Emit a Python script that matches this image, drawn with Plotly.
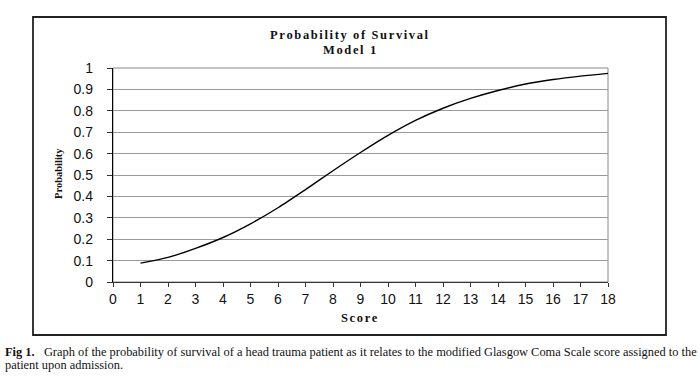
import plotly.graph_objects as go

scores = [1, 2, 3, 4, 5, 6, 7, 8, 9, 10, 11, 12, 13, 14, 15, 16, 17, 18]
probability = [0.088, 0.115, 0.157, 0.208, 0.272, 0.347, 0.432, 0.52, 0.605,
               0.685, 0.755, 0.812, 0.858, 0.895, 0.925, 0.946, 0.962, 0.975]
x_ticks = list(range(0, 19))
y_ticks = [0, 0.1, 0.2, 0.3, 0.4, 0.5, 0.6, 0.7, 0.8, 0.9, 1]
y_tick_labels = ["0", "0.1", "0.2", "0.3", "0.4", "0.5", "0.6", "0.7", "0.8", "0.9", "1"]

GAP = '<span style="font-size:6.5px"> </span>'  # small space for letter spacing


def spaced(s):
    return GAP.join(list(s))


title_lines = ["Probability of Survival", "Model 1"]
x_title = "Score"
y_title = "Probability"
caption_1 = ("<b>Fig 1.</b>   Graph of the probability of survival of a head trauma patient "
             "as it relates to the modified Glasgow Coma Scale score assigned to the")
caption_2 = "patient upon admission."

# plot area in pixels: x 113-608, y 68-282
L, R, T, B = 113, 608, 68, 282
W, H = R - L, B - T


def px(xp):
    return (xp - L) / W


def py(yp):
    return (B - yp) / H


fig = go.Figure()
fig.add_trace(go.Scatter(
    x=scores, y=probability, mode="lines",
    line=dict(color="black", width=1.4, shape="spline", smoothing=0.8),
    showlegend=False, hoverinfo="skip"))

tick_font = dict(family="Liberation Sans, Arial, sans-serif", size=14, color="#111")
serif = "Liberation Serif, Times New Roman, serif"

fig.update_layout(
    width=700, height=376,
    margin=dict(l=L, r=700 - R, t=T, b=376 - B),
    paper_bgcolor="white", plot_bgcolor="white",
    xaxis=dict(range=[0, 18], tickvals=x_ticks, showgrid=False, zeroline=False,
               showline=True, linecolor="#333", linewidth=1.2,
               ticks="outside", ticklen=4, tickcolor="#333", tickfont=tick_font,
               ticklabelstandoff=0),
    yaxis=dict(range=[0, 1], tickvals=y_ticks, ticktext=y_tick_labels,
               showgrid=True, gridcolor="#9a9a9a", gridwidth=1, zeroline=False,
               showline=True, linecolor="black", linewidth=1.3,
               ticks="outside", ticklen=5, tickcolor="#333", tickfont=tick_font,
               ticklabelstandoff=11),
)

# plot-area frame (top/right)
fig.add_shape(type="rect", xref="paper", yref="paper", x0=0, x1=1, y0=0, y1=1,
              line=dict(color="#888", width=1), layer="below")
# outer chart box
fig.add_shape(type="rect", xref="paper", yref="paper",
              x0=px(33), x1=px(666), y0=py(335), y1=py(17),
              line=dict(color="#222", width=1.8))


def note(text, x, y, size, family=serif, angle=0, xanchor="center"):
    fig.add_annotation(text=text, xref="paper", yref="paper", x=x, y=y,
                       xanchor=xanchor, yanchor="middle", showarrow=False,
                       textangle=angle, font=dict(family=family, size=size, color="#111"))


note("<b>" + spaced(title_lines[0]) + "</b>", px(349), py(35), 12.5)
note("<b>" + spaced(title_lines[1]) + "</b>", px(349), py(50), 12.5)
note("<b>" + spaced(x_title) + "</b>", px(359), py(318), 12.5)
note("<b>" + y_title + "</b>", px(58), py(174), 10.5, angle=-90)
note(caption_1, px(3), py(352), 12.4, xanchor="left")
note(caption_2, px(3), py(365), 12.4, xanchor="left")

fig.write_html("out.html", config={"displayModeBar": False},
               post_script="document.body.style.margin='0';document.body.style.overflow='hidden';")
